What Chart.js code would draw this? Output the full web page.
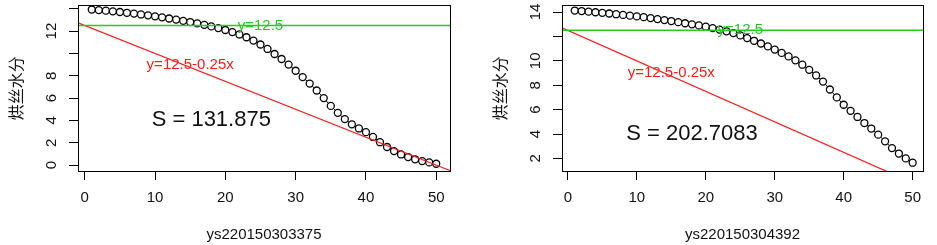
<!DOCTYPE html>
<html>
<head>
<meta charset="utf-8">
<script src="https://cdn.jsdelivr.net/npm/chart.js@4"></script>
<style>
  html, body { margin: 0; padding: 0; background: #fff; }
  .panel { position: absolute; top: 0; height: 245px; }
</style>
</head>
<body>
<div class="panel" style="left:0;width:468px"><canvas id="left"></canvas></div>
<div class="panel" style="left:468px;width:469px"><canvas id="right"></canvas></div>
<script>
// sample index on the x axis
const sampleIdx = [1, 2, 3, 4, 5, 6, 7, 8, 9, 10, 11, 12, 13, 14, 15, 16, 17, 18, 19, 20,
  21, 22, 23, 24, 25, 26, 27, 28, 29, 30, 31, 32, 33, 34, 35, 36, 37, 38, 39, 40,
  41, 42, 43, 44, 45, 46, 47, 48, 49, 50];

// 烘丝水分, batch ys220150303375
const moistureA = [13.93, 13.88, 13.83, 13.77, 13.71, 13.64, 13.57, 13.49, 13.41, 13.32,
  13.23, 13.13, 13.03, 12.92, 12.81, 12.69, 12.56, 12.42, 12.27, 12.10,
  11.91, 11.70, 11.45, 11.15, 10.80, 10.40, 9.95, 9.50, 9.00, 8.45,
  7.88, 7.30, 6.68, 6.00, 5.30, 4.68, 4.12, 3.65, 3.28, 2.95,
  2.52, 2.05, 1.62, 1.25, 0.95, 0.72, 0.52, 0.36, 0.24, 0.12];

// 烘丝水分, batch ys220150304392
const moistureB = [14.12, 14.08, 14.03, 13.98, 13.93, 13.88, 13.82, 13.76, 13.70, 13.64,
  13.58, 13.50, 13.42, 13.34, 13.26, 13.17, 13.08, 12.99, 12.90, 12.80,
  12.68, 12.56, 12.42, 12.27, 12.08, 11.86, 11.64, 11.42, 11.18, 10.92,
  10.65, 10.36, 10.04, 9.68, 9.26, 8.80, 8.30, 7.65, 7.00, 6.40,
  5.90, 5.40, 4.90, 4.45, 3.95, 3.40, 2.85, 2.40, 2.00, 1.65];

const xTicks = [0, 10, 20, 30, 40, 50];
const yTicksA = [0, 2, 4, 6, 8, 10, 12, 14];
const yLabelsA = [0, 2, 4, 6, 8, 12];      // R drops the crowded ones
const yTicksB = [2, 4, 6, 8, 10, 12, 14];
const yLabelsB = [2, 4, 6, 8, 10, 14];

// reference lines
const hLevel = 12.5;
const lineIntercept = 12.5;
const lineSlope = -0.25;

const areaA = '131.875';
const areaB = '202.7083';

const FONT = 'Liberation Sans, Arial, sans-serif';

// draws box, rotated y labels, x labels, titles and the text notes
const rStyle = {
  id: 'rStyle',
  afterDatasetsDraw(chart, args, o) {
    const ctx = chart.ctx;
    const a = chart.chartArea;
    const xs = chart.scales.x, ys = chart.scales.y;
    ctx.save();
    ctx.strokeStyle = '#000';
    ctx.lineWidth = 1;
    ctx.strokeRect(Math.round(a.left) + 0.5, Math.round(a.top) + 0.5,
      Math.round(a.right - a.left), Math.round(a.bottom - a.top));

    ctx.fillStyle = '#111';
    ctx.font = '15px ' + FONT;
    ctx.textAlign = 'center';
    ctx.textBaseline = 'middle';
    xTicks.forEach(v => ctx.fillText(String(v), xs.getPixelForValue(v), a.bottom + 27));
    o.yLabels.forEach(v => {
      ctx.save();
      ctx.translate(a.left - 26, ys.getPixelForValue(v));
      ctx.rotate(-Math.PI / 2);
      ctx.fillText(String(v), 0, 0);
      ctx.restore();
    });
    ctx.fillText(o.xTitle, (a.left + a.right) / 2, a.bottom + 64);
    ctx.save();
    ctx.translate(a.left - 62, (a.top + a.bottom) / 2);
    ctx.rotate(-Math.PI / 2);
    ctx.font = '16px "Noto Sans CJK SC", sans-serif';
    ctx.fillText('烘丝水分', 0, 0);
    ctx.restore();

    // notes
    ctx.font = '15px ' + FONT;
    ctx.fillStyle = '#22cc22';
    ctx.fillText('y=12.5', xs.getPixelForValue(25), ys.getPixelForValue(12.5));
    ctx.fillStyle = '#ff1a1a';
    ctx.fillText('y=12.5-0.25x', xs.getPixelForValue(15), ys.getPixelForValue(9));
    ctx.fillStyle = '#111';
    ctx.font = '22px ' + FONT;
    ctx.fillText('S = ' + o.area, xs.getPixelForValue(18), ys.getPixelForValue(4));
    ctx.restore();
  }
};

function makeChart(id, vals, p) {
  const pts = sampleIdx.map((x, i) => ({ x: x, y: vals[i] }));
  const x0 = p.xMin, x1 = p.xMax;
  new Chart(document.getElementById(id), {
    type: 'scatter',
    data: {
      datasets: [
        {
          data: [{ x: x0, y: hLevel }, { x: x1, y: hLevel }],
          showLine: true, borderColor: '#22cc22', borderWidth: 1.5,
          pointRadius: 0, order: 0
        },
        {
          data: [{ x: x0, y: lineIntercept + lineSlope * x0 }, { x: x1, y: lineIntercept + lineSlope * x1 }],
          showLine: true, borderColor: '#ff1a1a', borderWidth: 1.2,
          pointRadius: 0, order: 0
        },
        {
          data: pts,
          showLine: true, borderColor: '#000', borderWidth: 1,
          pointRadius: 3.5, pointBorderWidth: 1.3,
          pointBorderColor: '#000', pointBackgroundColor: '#fff',
          order: 1
        }
      ]
    },
    options: {
      responsive: true,
      maintainAspectRatio: false,
      animation: false,
      layout: { padding: { top: p.top, right: p.right, left: 0, bottom: 0 } },
      plugins: {
        legend: { display: false },
        tooltip: { enabled: false },
        rStyle: { yLabels: p.yLabels, xTitle: p.xTitle, area: p.area }
      },
      scales: {
        x: {
          type: 'linear', min: x0, max: x1,
          afterBuildTicks: s => { s.ticks = xTicks.map(v => ({ value: v })); },
          afterFit: s => { s.height = 74; },
          ticks: { display: false },
          border: { display: false },
          grid: { drawOnChartArea: false, drawTicks: true, tickLength: 9, color: '#000', lineWidth: 1 }
        },
        y: {
          type: 'linear', min: p.yMin, max: p.yMax,
          afterBuildTicks: s => { s.ticks = p.yTicks.map(v => ({ value: v })); },
          afterFit: s => { s.width = p.yWidth; },
          ticks: { display: false },
          border: { display: false },
          grid: { drawOnChartArea: false, drawTicks: true, tickLength: 9, color: '#000', lineWidth: 1 }
        }
      }
    },
    plugins: [rStyle]
  });
}

makeChart('left', moistureA, {
  xMin: -0.96, xMax: 51.96, yMin: -0.53, yMax: 14.31,
  yTicks: yTicksA, yLabels: yLabelsA, top: 4, right: 18, yWidth: 78,
  xTitle: 'ys220150303375', area: areaA
});
makeChart('right', moistureB, {
  xMin: -0.85, xMax: 51.5, yMin: 0.97, yMax: 14.55,
  yTicks: yTicksB, yLabels: yLabelsB, top: 3, right: 14, yWidth: 94,
  xTitle: 'ys220150304392', area: areaB
});
</script>
</body>
</html>
